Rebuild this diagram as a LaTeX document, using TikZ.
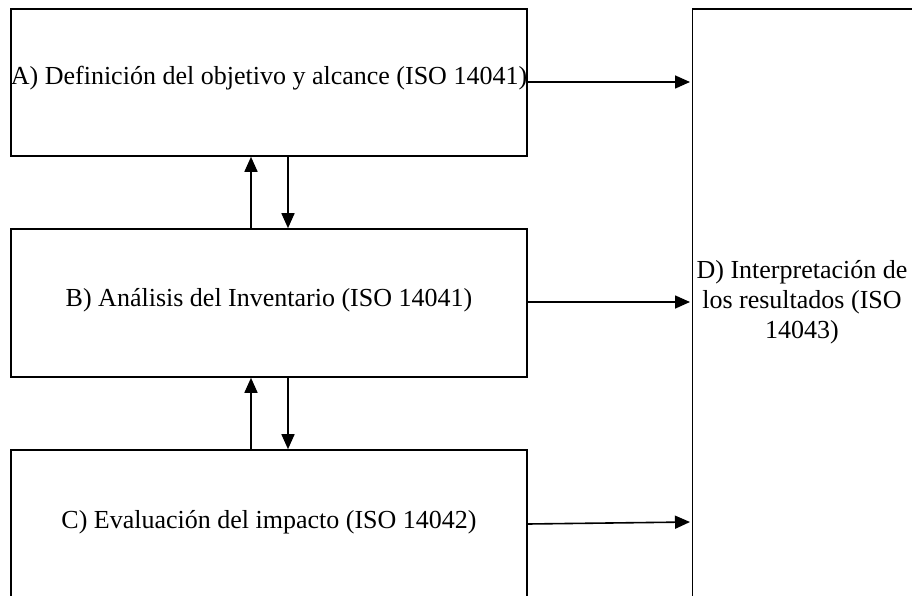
\documentclass[tikz,border=0pt]{standalone}
\usepackage{fontspec}
\setmainfont{Liberation Serif}
\usetikzlibrary{arrows.meta}
\begin{document}
\begin{tikzpicture}[x=1pt,y=-1pt,
  box/.style={draw=black,line width=1.6pt,fill=white,inner sep=0pt},
  lbl/.style={font=\fontsize{26}{30}\selectfont,inner sep=0pt},
  conn/.style={line width=1.6pt,-{Triangle[length=15pt,width=13pt]}}]
\useasboundingbox (0,0) rectangle (912,596);
\clip (0,0) rectangle (912,596);
\fill[white] (0,0) rectangle (912,596);
\node[box,minimum width=516pt,minimum height=147pt] (A) at (269,82.5) {};
\node[lbl] at (269,78) (At) {A) Definición del objetivo y alcance (ISO 14041)};
\node[box,minimum width=516pt,minimum height=148pt] (B) at (269,303) {};
\node[lbl] at (269,300) (Bt) {B) Análisis del Inventario (ISO 14041)};
\node[box,minimum width=516pt,minimum height=150pt] (C) at (269,525) {};
\node[lbl] at (269,522) (Ct) {C) Evaluación del impacto (ISO 14042)};
\node[box,minimum width=226pt,minimum height=590pt] (D) at (805.5,304) {};
\node[lbl,align=center] at (802,302) (Dt) {D) Interpretación de\\los resultados (ISO\\14043)};
\coordinate (a1) at (A.east |- 0,82);
\coordinate (d1) at (690,82);
\coordinate (b1) at (B.east |- 0,302);
\coordinate (d2) at (690,302);
\coordinate (c1) at (C.east |- 0,524);
\coordinate (d3) at (690,522);
\draw[conn] (a1) -- (d1);
\draw[conn] (b1) -- (d2);
\draw[conn] (c1) -- (d3);
\draw[conn] (B.north -| 251,0) -- (A.south -| 251,0);
\draw[conn] (A.south -| 288,0) -- (B.north -| 288,0);
\draw[conn] (C.north -| 251,0) -- (B.south -| 251,0);
\draw[conn] (B.south -| 288,0) -- (C.north -| 288,0);
\end{tikzpicture}
\end{document}
